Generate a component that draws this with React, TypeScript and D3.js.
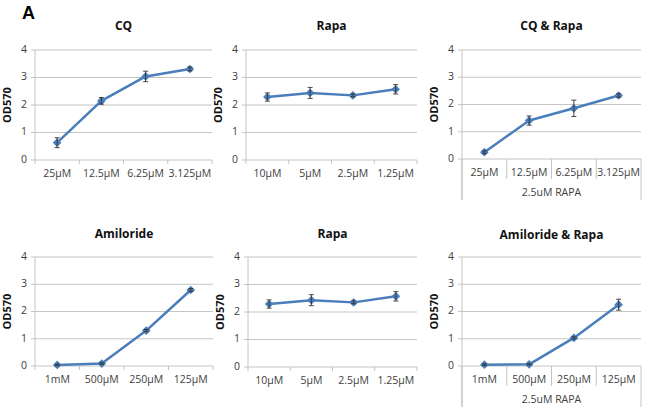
import React from "react";
import * as d3 from "d3";

const yTicks = [0, 1, 2, 3, 4];

const cqCategories = ["25µM", "12.5µM", "6.25µM", "3.125µM"];
const cqValues = [0.63, 2.15, 3.04, 3.31];
const cqErrors = [0.18, 0.12, 0.19, 0.07];

const rapaCategories = ["10µM", "5µM", "2.5µM", "1.25µM"];
const rapaTopValues = [2.29, 2.44, 2.35, 2.57];
const rapaTopErrors = [0.15, 0.2, 0.05, 0.17];

const cqRapaValues = [0.25, 1.41, 1.86, 2.33];
const cqRapaErrors = [0.05, 0.17, 0.3, 0.06];

const amilorideCategories = ["1mM", "500µM", "250µM", "125µM"];
const amilorideValues = [0.04, 0.09, 1.3, 2.79];
const amilorideErrors = [0.03, 0.03, 0.04, 0.05];

const rapaBottomValues = [2.29, 2.43, 2.35, 2.57];
const rapaBottomErrors = [0.15, 0.2, 0.05, 0.17];

const amilRapaValues = [0.05, 0.06, 1.03, 2.25];
const amilRapaErrors = [0.03, 0.02, 0.04, 0.2];

const groupLabel = "2.5uM RAPA";

const FONT = "'Open Sans', 'Noto Sans', sans-serif";
const BLUE = "#4a7ebb";
const GRID = "#c4c4c4";
const TEXT = "#404040";

type PanelProps = {
  title: string;
  categories: string[];
  values: number[];
  errors: number[];
  x0: number;
  x1: number;
  yTop: number;
  yBottom: number;
  titleY: number;
  group?: string;
};

function Panel({ title, categories, values, errors, x0, x1, yTop, yBottom, titleY, group }: PanelProps) {
  const y = d3.scaleLinear().domain([0, 4]).range([yBottom, yTop]);
  const x = d3.scaleBand<string>().domain(categories).range([x0, x1]).padding(0);
  const cx = (c: string) => (x(c) as number) + x.bandwidth() / 2;
  const line = d3
    .line<number>()
    .x((_, i) => cx(categories[i]))
    .y((v) => y(v));
  const diamond = d3.symbol().type(d3.symbolDiamond2).size(48)();
  const boundaries = categories.map((c) => x(c) as number).concat([x1]);
  const midX = (x0 + x1) / 2;

  return (
    <g>
      <text x={midX} y={titleY} textAnchor="middle" dominantBaseline="middle" fontFamily={FONT} fontWeight="bold" fontSize={12} fill="#111">
        {title}
      </text>
      {yTicks.map((t) => (
        <g key={t}>
          {t > 0 && <line x1={x0} x2={x1} y1={y(t)} y2={y(t)} stroke={GRID} strokeWidth={1} />}
          <line x1={x0 - 4} x2={x0} y1={y(t)} y2={y(t)} stroke={GRID} strokeWidth={1} />
          <text x={x0 - 8} y={y(t)} textAnchor="end" dominantBaseline="middle" fontFamily={FONT} fontSize={10.5} fill={TEXT}>
            {t}
          </text>
        </g>
      ))}
      <text
        transform={`translate(${x0 - 27},${(yTop + yBottom) / 2}) rotate(-90)`}
        textAnchor="middle"
        dominantBaseline="middle"
        fontFamily={FONT}
        fontWeight="bold"
        fontSize={11}
        fill="#111"
      >
        OD570
      </text>
      <line x1={x0} x2={x0} y1={yTop} y2={group ? yBottom + 41 : yBottom} stroke={GRID} strokeWidth={1} />
      <line x1={x0} x2={x1} y1={yBottom} y2={yBottom} stroke={GRID} strokeWidth={1} />
      {boundaries.map((b, i) => {
        const outer = i === 0 || i === boundaries.length - 1;
        const len = group ? (outer ? 41 : 20) : 4;
        return <line key={i} x1={b} x2={b} y1={yBottom} y2={yBottom + len} stroke={GRID} strokeWidth={1} />;
      })}
      {categories.map((c) => (
        <text key={c} x={cx(c)} y={yBottom + 14} textAnchor="middle" dominantBaseline="middle" fontFamily={FONT} fontSize={10.5} fill={TEXT}>
          {c}
        </text>
      ))}
      {group && (
        <text x={midX} y={yBottom + 34} textAnchor="middle" dominantBaseline="middle" fontFamily={FONT} fontSize={10.5} fill={TEXT}>
          {group}
        </text>
      )}
      <path d={line(values) as string} fill="none" stroke={BLUE} strokeWidth={2.5} strokeLinejoin="round" />
      {values.map((v, i) => (
        <path key={i} d={diamond as string} transform={`translate(${cx(categories[i])},${y(v)})`} fill={BLUE} />
      ))}
      {values.map((v, i) => {
        const px = cx(categories[i]);
        const hi = y(v + errors[i]);
        const lo = y(v - errors[i]);
        return (
          <g key={"e" + i} stroke="#333" strokeWidth={0.9}>
            <line x1={px} x2={px} y1={hi} y2={lo} />
            <line x1={px - 2.5} x2={px + 2.5} y1={hi} y2={hi} />
            <line x1={px - 2.5} x2={px + 2.5} y1={lo} y2={lo} />
          </g>
        );
      })}
    </g>
  );
}

export default function App() {
  return (
    <svg width={650} height={417} style={{ position: "absolute", left: 0, top: 0, background: "#fff" }}>
      <rect width={650} height={417} fill="#fff" />
      <text x={22} y={19} fontFamily="'Liberation Sans', Arial, sans-serif" fontWeight="bold" fontSize={18} fill="#000">
        A
      </text>
      <Panel title="CQ" categories={cqCategories} values={cqValues} errors={cqErrors} x0={35} x1={212} yTop={50} yBottom={160} titleY={27} />
      <Panel title="Rapa" categories={rapaCategories} values={rapaTopValues} errors={rapaTopErrors} x0={246} x1={417} yTop={50} yBottom={160} titleY={27} />
      <Panel title="CQ & Rapa" categories={cqCategories} values={cqRapaValues} errors={cqRapaErrors} x0={462} x1={641} yTop={50} yBottom={159} titleY={27} group={groupLabel} />
      <Panel title="Amiloride" categories={amilorideCategories} values={amilorideValues} errors={amilorideErrors} x0={35} x1={213} yTop={257} yBottom={366} titleY={235} />
      <Panel title="Rapa" categories={rapaCategories} values={rapaBottomValues} errors={rapaBottomErrors} x0={248} x1={417} yTop={257} yBottom={367} titleY={235} />
      <Panel title="Amiloride & Rapa" categories={amilorideCategories} values={amilRapaValues} errors={amilRapaErrors} x0={462} x1={641} yTop={257} yBottom={366} titleY={236} group={groupLabel} />
    </svg>
  );
}
